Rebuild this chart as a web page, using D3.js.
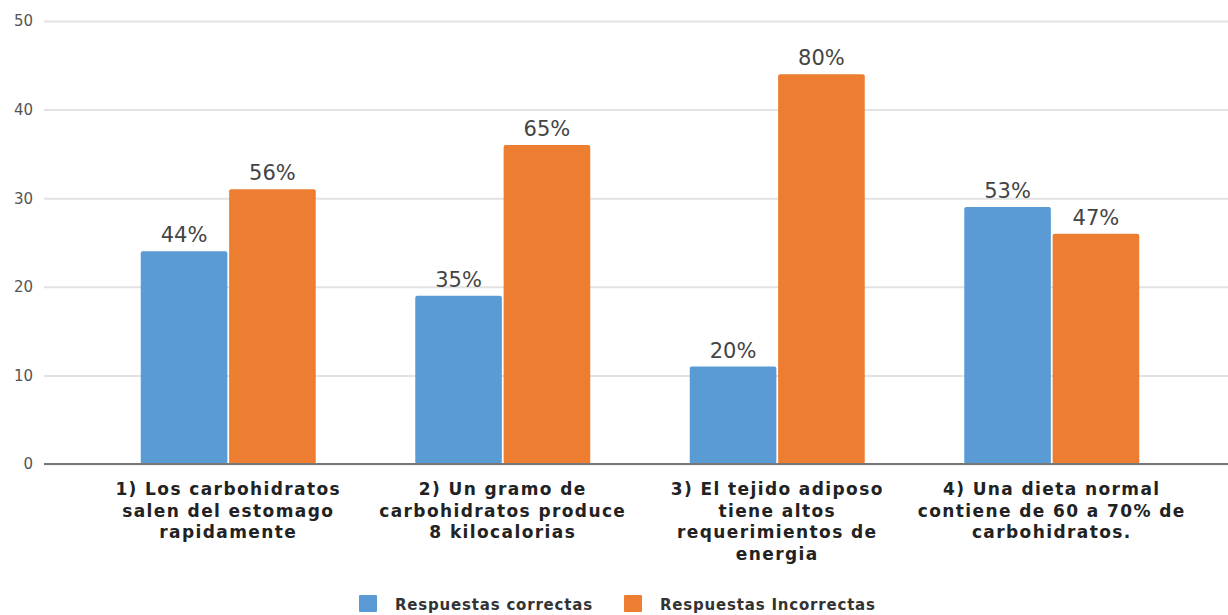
<!DOCTYPE html>
<html><head><meta charset="utf-8">
<script src="https://cdn.jsdelivr.net/npm/d3@7"></script>
<style>body{margin:0;background:#fff;}svg{display:block;font-family:"DejaVu Sans",Verdana,sans-serif;}</style>
</head><body><svg id="c" width="1228" height="615"></svg>
<script>
const categories = [
  ["1) Los carbohidratos","salen del estomago","rapidamente"],
  ["2) Un gramo de","carbohidratos produce","8 kilocalorias"],
  ["3) El tejido adiposo","tiene altos","requerimientos de","energia"],
  ["4) Una dieta normal","contiene de 60 a 70% de","carbohidratos."]
];
const seriesNames = ["Respuestas correctas","Respuestas Incorrectas"];
const correctas = [24,19,11,29];
const incorrectas = [31,36,44,26];
const labelsCorrectas = ["44%","35%","20%","53%"];
const labelsIncorrectas = ["56%","65%","80%","47%"];
const yTicks = [0,10,20,30,40,50];
const colors = ["#5b9bd5","#ed7d31"];

(function(){
const svg = d3.select("#c");
const plotLeft = 44, plotRight = 1228, plotTop = 21, plotBottom = 464;
const y = d3.scaleLinear().domain([0,50]).range([plotBottom, plotTop]);
const x0 = d3.scaleBand().domain(d3.range(categories.length)).range([91, 1189]).paddingInner(0).paddingOuter(0);
const x1 = d3.scaleBand().domain([0,1]).range([0, 175]).paddingInner(0.02);
const groupOffset = (x0.bandwidth() - 175)/2;

const yAxis = d3.axisLeft(y).tickValues(yTicks).tickSize(-(plotRight-plotLeft)).tickPadding(11);
const ga = svg.append("g").attr("transform",`translate(${plotLeft},0)`).call(yAxis);
ga.select(".domain").remove();
ga.selectAll(".tick line").attr("stroke","#e2e2e2").attr("stroke-width",2);
ga.selectAll(".tick text").attr("fill","#555").style("font-size","15px").style("font-family","'DejaVu Sans',sans-serif");

const series = [correctas, incorrectas];
const labels = [labelsCorrectas, labelsIncorrectas];
series.forEach((vals, s) => {
  svg.append("g").selectAll("rect").data(vals).join("rect")
    .attr("x",(d,i)=>x0(i)+groupOffset+x1(s))
    .attr("y",d=>y(d))
    .attr("width",x1.bandwidth())
    .attr("height",d=>y(0)-y(d))
    .attr("rx",2)
    .attr("fill",colors[s]);
  svg.append("g").selectAll("text").data(vals).join("text")
    .attr("x",(d,i)=>x0(i)+groupOffset+x1(s)+x1.bandwidth()/2)
    .attr("y",d=>y(d)-9)
    .attr("text-anchor","middle")
    .attr("fill","#444")
    .style("font-size","21px")
    .text((d,i)=>labels[s][i]);
});

svg.append("line").attr("x1",plotLeft).attr("x2",plotRight).attr("y1",y(0)).attr("y2",y(0))
  .attr("stroke","#777").attr("stroke-width",2);

categories.forEach((lines,i)=>{
  const t = svg.append("text").attr("text-anchor","middle")
    .attr("fill","#222").style("font-size","17px").style("font-weight","bold")
    .style("letter-spacing","1.4px")
    .attr("transform",`translate(${x0(i)+x0.bandwidth()/2},0)`);
  lines.forEach((ln,k)=>t.append("tspan").attr("x",0).attr("y",495+k*21.7).text(ln));
});

const legendX = [359, 624];
seriesNames.forEach((n,s)=>{
  const g = svg.append("g").attr("transform",`translate(${legendX[s]},595)`);
  g.append("rect").attr("width",18).attr("height",17).attr("fill",colors[s]).attr("rx",1);
  g.append("text").attr("x",36).attr("y",15).attr("fill","#333")
    .style("font-size","15px").style("font-weight","bold").style("letter-spacing","0.8px").text(n);
});
})();
</script></body></html>
